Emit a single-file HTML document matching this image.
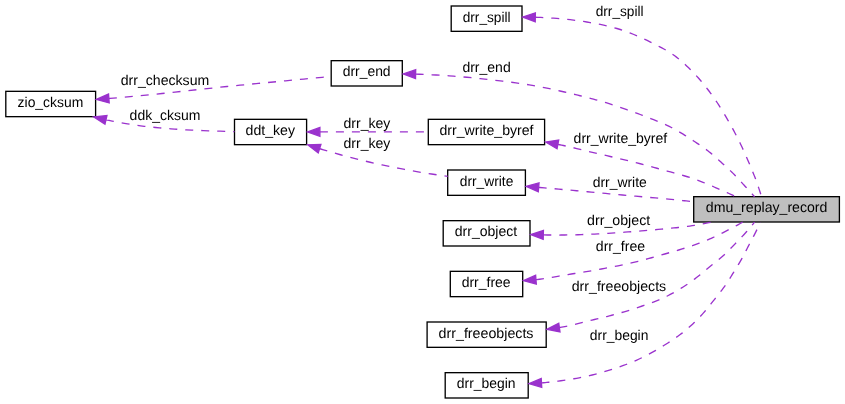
<!DOCTYPE html>
<html><head><meta charset="utf-8"><title>dmu_replay_record</title>
<style>
html,body{margin:0;padding:0;background:#fff;}
svg{display:block;will-change:transform;}
text{font-family:"Liberation Sans",sans-serif;font-size:14.2px;fill:#000;text-rendering:geometricPrecision;}
</style></head><body>
<svg width="845" height="404" viewBox="0 0 845 404">
<rect x="0" y="0" width="845" height="404" fill="#ffffff"/>
<rect x="451.20" y="6.00" width="70.80" height="25.33" fill="#ffffff" stroke="#000" stroke-width="1.33"/>
<rect x="331.20" y="60.67" width="71.10" height="25.33" fill="#ffffff" stroke="#000" stroke-width="1.33"/>
<rect x="5.80" y="91.33" width="89.80" height="25.33" fill="#ffffff" stroke="#000" stroke-width="1.33"/>
<rect x="234.50" y="119.33" width="72.10" height="25.33" fill="#ffffff" stroke="#000" stroke-width="1.33"/>
<rect x="428.30" y="119.33" width="116.30" height="25.33" fill="#ffffff" stroke="#000" stroke-width="1.33"/>
<rect x="447.70" y="170.00" width="77.70" height="25.33" fill="#ffffff" stroke="#000" stroke-width="1.33"/>
<rect x="693.70" y="196.67" width="145.70" height="25.33" fill="#BFBFBF" stroke="#000" stroke-width="1.33"/>
<rect x="443.20" y="220.67" width="86.80" height="25.33" fill="#ffffff" stroke="#000" stroke-width="1.33"/>
<rect x="450.30" y="271.33" width="72.40" height="25.33" fill="#ffffff" stroke="#000" stroke-width="1.33"/>
<rect x="427.10" y="322.00" width="119.10" height="25.33" fill="#ffffff" stroke="#000" stroke-width="1.33"/>
<rect x="445.20" y="372.67" width="83.00" height="25.33" fill="#ffffff" stroke="#000" stroke-width="1.33"/>
<path d="M535.30,17.26 L537.72,17.33 L540.86,17.46 L544.00,17.61 L547.13,17.78 L550.27,17.98 L553.40,18.20 L556.75,18.46 L560.10,18.73 L563.45,19.03 L566.80,19.36 L570.15,19.71 L573.49,20.10 L576.83,20.52 L580.16,20.97 L583.49,21.46 L586.80,22.00 L590.17,22.58 L593.55,23.17 L596.92,23.80 L600.29,24.46 L603.65,25.17 L607.00,25.92 L610.33,26.72 L613.65,27.58 L616.94,28.50 L620.20,29.50 L623.64,30.64 L627.07,31.86 L630.47,33.14 L633.86,34.50 L637.22,35.91 L640.56,37.38 L643.88,38.90 L647.18,40.46 L650.45,42.06 L653.70,43.70 L655.74,44.74 L657.78,45.78 L659.82,46.83 L661.85,47.90 L663.87,49.00 L665.87,50.12 L667.85,51.27 L669.80,52.47 L671.72,53.71 L673.60,55.00 L675.03,56.04 L676.44,57.11 L677.84,58.21 L679.22,59.33 L680.58,60.47 L681.93,61.63 L683.27,62.80 L684.59,63.99 L685.90,65.19 L687.20,66.40 L688.63,67.76 L690.05,69.15 L691.45,70.55 L692.83,71.97 L694.19,73.41 L695.54,74.87 L696.88,76.33 L698.20,77.81 L699.51,79.30 L700.80,80.80 L702.24,82.50 L703.66,84.22 L705.07,85.96 L706.45,87.71 L707.82,89.48 L709.17,91.26 L710.50,93.06 L711.82,94.86 L713.12,96.68 L714.40,98.50 L715.86,100.61 L717.29,102.75 L718.69,104.90 L720.07,107.07 L721.44,109.25 L722.78,111.44 L724.10,113.65 L725.42,115.86 L726.71,118.08 L728.00,120.30 L729.15,122.31 L730.28,124.32 L731.40,126.35 L732.51,128.38 L733.61,130.41 L734.69,132.46 L735.76,134.51 L736.82,136.57 L737.87,138.63 L738.90,140.70 L740.02,142.98 L741.12,145.26 L742.20,147.56 L743.27,149.86 L744.32,152.17 L745.36,154.49 L746.39,156.81 L747.40,159.14 L748.40,161.47 L749.40,163.80 L750.02,165.27 L750.64,166.74 L751.26,168.22 L751.87,169.69 L752.48,171.17 L753.08,172.65 L753.68,174.13 L754.26,175.62 L754.84,177.11 L755.40,178.60 L756.06,180.39 L756.71,182.19 L757.35,183.98 L757.98,185.79 L758.60,187.60 L759.20,189.41 L759.79,191.22 L760.37,193.05 L760.94,194.87 L761.50,196.70" fill="none" stroke="#9A32CD" stroke-width="1.33" stroke-dasharray="8,8"/>
<polygon points="522.80,17.06 535.23,21.69 535.37,12.82" fill="#9A32CD" stroke="#9A32CD" stroke-width="1.33" stroke-linejoin="miter"/>
<path d="M415.60,74.16 L419.24,74.27 L423.47,74.42 L427.70,74.59 L431.93,74.79 L436.15,75.00 L440.38,75.24 L444.60,75.50 L449.06,75.80 L453.51,76.13 L457.97,76.49 L462.42,76.87 L466.87,77.28 L471.32,77.71 L475.77,78.16 L480.22,78.62 L484.66,79.10 L489.10,79.60 L493.57,80.11 L498.04,80.62 L502.52,81.14 L506.99,81.68 L511.45,82.24 L515.92,82.83 L520.37,83.46 L524.82,84.13 L529.27,84.84 L533.70,85.60 L536.34,86.08 L538.98,86.58 L541.61,87.09 L544.25,87.62 L546.88,88.16 L549.50,88.71 L552.13,89.27 L554.76,89.84 L557.38,90.42 L560.00,91.00 L562.24,91.50 L564.47,92.01 L566.71,92.52 L568.94,93.04 L571.17,93.57 L573.40,94.10 L575.63,94.64 L577.85,95.19 L580.08,95.74 L582.30,96.30 L584.54,96.87 L586.78,97.44 L589.01,98.01 L591.25,98.59 L593.48,99.18 L595.72,99.78 L597.94,100.38 L600.17,101.01 L602.39,101.64 L604.60,102.30 L606.84,102.98 L609.07,103.68 L611.30,104.40 L613.52,105.13 L615.74,105.88 L617.96,106.63 L620.17,107.39 L622.38,108.16 L624.59,108.93 L626.80,109.70 L629.04,110.49 L631.28,111.28 L633.52,112.07 L635.76,112.87 L637.99,113.68 L640.23,114.50 L642.45,115.33 L644.67,116.17 L646.89,117.03 L649.10,117.90 L651.36,118.80 L653.62,119.70 L655.87,120.60 L658.13,121.51 L660.37,122.44 L662.61,123.39 L664.83,124.37 L667.04,125.38 L669.23,126.42 L671.40,127.50 L673.70,128.71 L675.99,129.96 L678.25,131.25 L680.49,132.58 L682.72,133.94 L684.94,135.32 L687.14,136.72 L689.34,138.14 L691.52,139.57 L693.70,141.00 L695.29,142.05 L696.88,143.10 L698.47,144.15 L700.05,145.21 L701.62,146.28 L703.19,147.37 L704.74,148.47 L706.28,149.59 L707.80,150.73 L709.30,151.90 L710.53,152.89 L711.75,153.90 L712.95,154.92 L714.15,155.95 L715.33,157.00 L716.51,158.05 L717.69,159.11 L718.86,160.18 L720.03,161.24 L721.20,162.30 L722.41,163.39 L723.62,164.48 L724.82,165.58 L726.02,166.67 L727.22,167.78 L728.41,168.88 L729.60,170.00 L730.78,171.12 L731.94,172.26 L733.10,173.40 L734.24,174.56 L735.37,175.73 L736.49,176.91 L737.61,178.09 L738.71,179.29 L739.81,180.49 L740.91,181.69 L742.01,182.90 L743.10,184.10 L744.20,185.30 L745.24,186.43 L746.27,187.57 L747.31,188.70 L748.34,189.84 L749.37,190.98 L750.40,192.12 L751.43,193.26 L752.45,194.41 L753.48,195.55 L754.50,196.70" fill="none" stroke="#9A32CD" stroke-width="1.33" stroke-dasharray="8,8"/>
<polygon points="403.10,73.92 415.51,78.60 415.69,69.73" fill="#9A32CD" stroke="#9A32CD" stroke-width="1.33" stroke-linejoin="miter"/>
<path d="M557.87,144.37 L559.69,144.74 L561.55,145.12 L563.40,145.50 L566.76,146.22 L570.10,146.97 L573.45,147.74 L576.79,148.54 L580.12,149.34 L583.46,150.16 L586.79,150.98 L590.12,151.80 L593.46,152.61 L596.80,153.40 L600.14,154.18 L603.48,154.95 L606.83,155.72 L610.17,156.48 L613.51,157.24 L616.86,158.01 L620.20,158.79 L623.54,159.58 L626.87,160.38 L630.20,161.20 L633.56,162.04 L636.92,162.90 L640.28,163.76 L643.63,164.64 L646.98,165.53 L650.33,166.42 L653.68,167.33 L657.02,168.24 L660.36,169.17 L663.70,170.10 L667.09,171.04 L670.48,171.97 L673.88,172.89 L677.27,173.82 L680.66,174.76 L684.05,175.74 L687.41,176.75 L690.76,177.80 L694.09,178.92 L697.40,180.10 L699.28,180.81 L701.16,181.54 L703.02,182.29 L704.89,183.05 L706.74,183.83 L708.60,184.62 L710.45,185.41 L712.30,186.21 L714.15,187.01 L716.00,187.80 L717.86,188.60 L719.72,189.40 L721.57,190.21 L723.42,191.02 L725.27,191.84 L727.12,192.66 L728.97,193.49 L730.82,194.32 L732.66,195.16 L734.50,196.00" fill="none" stroke="#9A32CD" stroke-width="1.33" stroke-dasharray="8,8"/>
<polygon points="545.59,142.05 557.04,148.73 558.69,140.01" fill="#9A32CD" stroke="#9A32CD" stroke-width="1.33" stroke-linejoin="miter"/>
<path d="M538.65,187.40 L539.68,187.49 L544.44,187.89 L549.20,188.30 L553.96,188.71 L558.72,189.13 L563.48,189.55 L568.24,189.97 L573.00,190.40 L576.63,190.73 L580.26,191.07 L583.89,191.40 L587.52,191.75 L591.15,192.09 L594.78,192.43 L598.41,192.78 L602.04,193.12 L605.67,193.46 L609.30,193.80 L615.87,194.40 L622.44,195.00 L629.01,195.58 L635.58,196.16 L642.16,196.75 L648.73,197.33 L655.30,197.93 L661.87,198.54 L668.43,199.16 L675.00,199.80 L676.87,199.99 L678.74,200.17 L680.61,200.36 L682.48,200.55 L684.35,200.74 L686.22,200.93 L688.09,201.12 L689.96,201.31 L691.83,201.51 L693.70,201.70" fill="none" stroke="#9A32CD" stroke-width="1.33" stroke-dasharray="8,8"/>
<polygon points="526.20,186.37 538.29,191.83 539.02,182.98" fill="#9A32CD" stroke="#9A32CD" stroke-width="1.33" stroke-linejoin="miter"/>
<path d="M543.30,234.94 L543.84,234.95 L547.30,235.00 L550.76,235.03 L554.22,235.04 L557.68,235.05 L561.14,235.03 L564.60,235.00 L567.94,234.95 L571.28,234.89 L574.62,234.81 L577.96,234.72 L581.30,234.61 L584.64,234.49 L587.98,234.36 L591.32,234.21 L594.66,234.06 L598.00,233.90 L601.34,233.73 L604.68,233.54 L608.03,233.34 L611.37,233.13 L614.71,232.91 L618.05,232.68 L621.39,232.45 L624.72,232.20 L628.06,231.95 L631.40,231.70 L634.74,231.44 L638.08,231.18 L641.43,230.91 L644.77,230.63 L648.11,230.34 L651.45,230.05 L654.79,229.75 L658.13,229.44 L661.46,229.12 L664.80,228.80 L667.06,228.58 L669.33,228.37 L671.59,228.15 L673.85,227.94 L676.12,227.72 L678.38,227.48 L680.64,227.24 L682.89,226.98 L685.15,226.70 L687.40,226.40 L689.79,226.06 L692.18,225.70 L694.57,225.32 L696.95,224.92 L699.33,224.51 L701.71,224.08 L704.09,223.64 L706.46,223.18 L708.83,222.70 L711.20,222.20" fill="none" stroke="#9A32CD" stroke-width="1.33" stroke-dasharray="8,8"/>
<polygon points="530.80,234.62 543.18,239.38 543.41,230.50" fill="#9A32CD" stroke="#9A32CD" stroke-width="1.33" stroke-linejoin="miter"/>
<path d="M535.96,279.68 L536.70,279.60 L539.50,279.27 L542.30,278.90 L545.10,278.48 L547.89,278.02 L550.67,277.55 L553.46,277.05 L556.24,276.55 L559.03,276.05 L561.81,275.57 L564.60,275.10 L567.94,274.56 L571.28,274.03 L574.63,273.50 L577.97,272.96 L581.31,272.43 L584.66,271.89 L588.00,271.34 L591.33,270.78 L594.67,270.20 L598.00,269.60 L601.35,268.99 L604.70,268.37 L608.05,267.74 L611.40,267.10 L614.74,266.45 L618.08,265.78 L621.42,265.10 L624.75,264.39 L628.08,263.66 L631.40,262.90 L634.76,262.10 L638.12,261.28 L641.47,260.43 L644.81,259.56 L648.16,258.67 L651.49,257.76 L654.83,256.84 L658.15,255.90 L661.48,254.96 L664.80,254.00 L668.27,253.00 L671.75,252.01 L675.23,251.01 L678.71,249.99 L682.17,248.96 L685.63,247.90 L689.08,246.80 L692.51,245.66 L695.91,244.46 L699.30,243.20 L700.80,242.62 L702.31,242.03 L703.81,241.44 L705.31,240.83 L706.80,240.22 L708.29,239.60 L709.78,238.97 L711.26,238.32 L712.73,237.67 L714.20,237.00 L715.63,236.33 L717.05,235.65 L718.47,234.96 L719.88,234.25 L721.29,233.54 L722.70,232.82 L724.10,232.09 L725.50,231.36 L726.90,230.63 L728.30,229.90 L729.74,229.15 L731.18,228.39 L732.61,227.63 L734.05,226.87 L735.48,226.10 L736.91,225.33 L738.33,224.55 L739.76,223.77 L741.18,222.99 L742.60,222.20" fill="none" stroke="#9A32CD" stroke-width="1.33" stroke-dasharray="8,8"/>
<polygon points="523.50,280.64 536.30,284.10 535.62,275.25" fill="#9A32CD" stroke="#9A32CD" stroke-width="1.33" stroke-linejoin="miter"/>
<path d="M559.37,327.56 L560.30,327.40 L563.25,326.87 L566.18,326.28 L569.11,325.65 L572.03,324.99 L574.95,324.29 L577.86,323.58 L580.77,322.85 L583.68,322.13 L586.59,321.41 L589.50,320.70 L591.99,320.11 L594.47,319.52 L596.96,318.94 L599.44,318.35 L601.93,317.75 L604.41,317.15 L606.89,316.54 L609.36,315.91 L611.83,315.26 L614.30,314.60 L616.79,313.91 L619.27,313.21 L621.75,312.50 L624.23,311.77 L626.71,311.04 L629.18,310.28 L631.64,309.51 L634.10,308.73 L636.55,307.92 L639.00,307.10 L641.51,306.25 L644.02,305.39 L646.54,304.53 L649.04,303.65 L651.54,302.74 L654.03,301.81 L656.50,300.85 L658.96,299.85 L661.39,298.80 L663.80,297.70 L665.31,296.98 L666.82,296.24 L668.32,295.48 L669.81,294.71 L671.29,293.93 L672.77,293.13 L674.24,292.32 L675.70,291.49 L677.16,290.65 L678.60,289.80 L680.13,288.88 L681.65,287.94 L683.17,286.99 L684.67,286.02 L686.17,285.03 L687.66,284.03 L689.13,283.02 L690.60,281.99 L692.06,280.95 L693.50,279.90 L694.86,278.88 L696.20,277.84 L697.53,276.79 L698.85,275.72 L700.16,274.64 L701.47,273.55 L702.78,272.46 L704.08,271.37 L705.39,270.28 L706.70,269.20 L708.50,267.74 L710.32,266.29 L712.14,264.84 L713.96,263.39 L715.78,261.94 L717.58,260.48 L719.37,258.99 L721.14,257.49 L722.89,255.96 L724.60,254.40 L725.75,253.32 L726.88,252.22 L728.00,251.12 L729.12,250.00 L730.22,248.88 L731.32,247.74 L732.42,246.61 L733.51,245.47 L734.61,244.34 L735.70,243.20 L736.84,242.03 L737.97,240.85 L739.11,239.68 L740.24,238.50 L741.37,237.32 L742.50,236.13 L743.61,234.93 L744.72,233.73 L745.82,232.52 L746.90,231.30 L747.68,230.41 L748.46,229.51 L749.23,228.61 L749.99,227.71 L750.76,226.80 L751.51,225.89 L752.27,224.97 L753.02,224.05 L753.76,223.13 L754.50,222.20" fill="none" stroke="#9A32CD" stroke-width="1.33" stroke-dasharray="8,8"/>
<polygon points="546.99,329.29 559.99,331.95 558.76,323.16" fill="#9A32CD" stroke="#9A32CD" stroke-width="1.33" stroke-linejoin="miter"/>
<path d="M541.48,382.93 L541.90,382.90 L543.54,382.76 L545.19,382.61 L546.83,382.45 L548.47,382.28 L550.11,382.10 L551.75,381.91 L553.39,381.72 L555.03,381.52 L556.66,381.31 L558.30,381.10 L560.91,380.75 L563.52,380.39 L566.13,380.02 L568.74,379.62 L571.35,379.21 L573.95,378.78 L576.55,378.32 L579.14,377.84 L581.72,377.34 L584.30,376.80 L586.93,376.22 L589.55,375.62 L592.16,374.99 L594.78,374.34 L597.38,373.66 L599.98,372.95 L602.57,372.22 L605.16,371.47 L607.73,370.70 L610.30,369.90 L612.94,369.06 L615.58,368.19 L618.21,367.31 L620.83,366.40 L623.44,365.47 L626.05,364.50 L628.64,363.50 L631.21,362.47 L633.76,361.41 L636.30,360.30 L639.14,359.01 L641.95,357.66 L644.75,356.27 L647.53,354.84 L650.29,353.37 L653.03,351.86 L655.76,350.31 L658.46,348.74 L661.14,347.13 L663.80,345.50 L665.84,344.23 L667.87,342.95 L669.90,341.65 L671.91,340.33 L673.91,338.99 L675.90,337.63 L677.86,336.25 L679.80,334.83 L681.72,333.38 L683.60,331.90 L685.43,330.41 L687.24,328.89 L689.02,327.34 L690.79,325.76 L692.54,324.16 L694.26,322.53 L695.95,320.88 L697.63,319.21 L699.28,317.51 L700.90,315.80 L702.21,314.37 L703.49,312.93 L704.76,311.46 L706.00,309.97 L707.24,308.47 L708.46,306.97 L709.67,305.45 L710.88,303.93 L712.09,302.42 L713.30,300.90 L714.56,299.33 L715.83,297.75 L717.09,296.17 L718.34,294.59 L719.59,293.00 L720.83,291.41 L722.05,289.80 L723.26,288.18 L724.44,286.55 L725.60,284.90 L726.51,283.56 L727.41,282.21 L728.30,280.85 L729.18,279.49 L730.04,278.11 L730.90,276.73 L731.75,275.35 L732.60,273.97 L733.45,272.58 L734.30,271.20 L735.06,269.97 L735.81,268.74 L736.56,267.51 L737.31,266.27 L738.06,265.04 L738.80,263.80 L739.54,262.55 L740.27,261.31 L740.99,260.06 L741.70,258.80 L742.47,257.41 L743.23,256.01 L743.98,254.60 L744.72,253.19 L745.45,251.78 L746.18,250.36 L746.91,248.95 L747.64,247.53 L748.37,246.11 L749.10,244.70 L749.88,243.22 L750.66,241.75 L751.45,240.28 L752.23,238.81 L753.02,237.33 L753.80,235.86 L754.57,234.38 L755.33,232.89 L756.07,231.40 L756.80,229.90 L757.16,229.14 L757.52,228.37 L757.88,227.60 L758.23,226.84 L758.58,226.07 L758.93,225.30 L759.28,224.52 L759.62,223.75 L759.96,222.98 L760.30,222.20" fill="none" stroke="#9A32CD" stroke-width="1.33" stroke-dasharray="8,8"/>
<polygon points="529.00,383.65 541.73,387.37 541.22,378.50" fill="#9A32CD" stroke="#9A32CD" stroke-width="1.33" stroke-linejoin="miter"/>
<path d="M108.86,98.49 L110.00,98.40 L123.02,97.31 L136.03,96.12 L149.04,94.84 L162.03,93.50 L175.03,92.11 L188.02,90.69 L201.01,89.28 L214.00,87.87 L227.00,86.51 L240.00,85.20 L249.12,84.31 L258.24,83.42 L267.36,82.54 L276.47,81.67 L285.59,80.79 L294.71,79.93 L303.84,79.06 L312.96,78.20 L322.08,77.35 L331.20,76.50" fill="none" stroke="#9A32CD" stroke-width="1.33" stroke-dasharray="8,8"/>
<polygon points="96.40,99.44 109.20,102.92 108.52,94.06" fill="#9A32CD" stroke="#9A32CD" stroke-width="1.33" stroke-linejoin="miter"/>
<path d="M105.96,119.79 L106.00,119.80 L109.06,120.45 L112.13,121.07 L115.20,121.68 L118.27,122.26 L121.35,122.82 L124.44,123.36 L127.52,123.88 L130.61,124.37 L133.71,124.85 L136.80,125.30 L140.57,125.82 L144.35,126.29 L148.13,126.73 L151.92,127.13 L155.71,127.51 L159.51,127.86 L163.31,128.19 L167.10,128.50 L170.90,128.81 L174.70,129.10 L180.37,129.50 L186.04,129.85 L191.72,130.14 L197.40,130.39 L203.08,130.60 L208.76,130.80 L214.45,130.97 L220.13,131.14 L225.82,131.32 L231.50,131.50 L231.80,131.51 L232.10,131.52 L232.40,131.53 L232.70,131.54 L233.00,131.55 L233.30,131.56 L233.60,131.57 L233.90,131.58 L234.20,131.59 L234.50,131.60" fill="none" stroke="#9A32CD" stroke-width="1.33" stroke-dasharray="8,8"/>
<polygon points="93.78,116.98 104.96,124.12 106.96,115.46" fill="#9A32CD" stroke="#9A32CD" stroke-width="1.33" stroke-linejoin="miter"/>
<path d="M319.90,131.90 L322.62,131.90 L327.96,131.90 L333.30,131.90 L338.64,131.90 L343.98,131.90 L349.32,131.90 L354.66,131.90 L360.00,131.90 L366.83,131.90 L373.66,131.90 L380.49,131.90 L387.32,131.90 L394.15,131.90 L400.98,131.90 L407.81,131.90 L414.64,131.90 L421.47,131.90 L428.30,131.90" fill="none" stroke="#9A32CD" stroke-width="1.33" stroke-dasharray="8,8"/>
<polygon points="307.40,131.90 319.90,136.34 319.90,127.46" fill="#9A32CD" stroke="#9A32CD" stroke-width="1.33" stroke-linejoin="miter"/>
<path d="M319.57,148.64 L320.71,148.99 L323.48,149.83 L326.26,150.67 L329.04,151.49 L331.82,152.30 L334.60,153.10 L340.48,154.75 L346.38,156.35 L352.29,157.89 L358.22,159.39 L364.16,160.84 L370.11,162.24 L376.07,163.60 L382.04,164.91 L388.02,166.18 L394.00,167.40 L399.34,168.45 L404.68,169.47 L410.03,170.45 L415.39,171.39 L420.76,172.30 L426.13,173.17 L431.51,174.01 L436.90,174.81 L442.30,175.57 L447.70,176.30" fill="none" stroke="#9A32CD" stroke-width="1.33" stroke-dasharray="8,8"/>
<polygon points="307.66,144.84 318.23,152.87 320.92,144.41" fill="#9A32CD" stroke="#9A32CD" stroke-width="1.33" stroke-linejoin="miter"/>
<g style="filter:grayscale(1)">
<text x="462.7" y="21.5" textLength="47.9" lengthAdjust="spacingAndGlyphs">drr_spill</text>
<text x="342.7" y="76.2" textLength="47.9" lengthAdjust="spacingAndGlyphs">drr_end</text>
<text x="17.6" y="106.8" textLength="65.7" lengthAdjust="spacingAndGlyphs">zio_cksum</text>
<text x="245.6" y="134.8" textLength="49.4" lengthAdjust="spacingAndGlyphs">ddt_key</text>
<text x="439.5" y="134.8" textLength="94.0" lengthAdjust="spacingAndGlyphs">drr_write_byref</text>
<text x="459.8" y="185.5" textLength="53.5" lengthAdjust="spacingAndGlyphs">drr_write</text>
<text x="705.8" y="212.2" textLength="121.6" lengthAdjust="spacingAndGlyphs">dmu_replay_record</text>
<text x="454.8" y="236.2" textLength="62.4" lengthAdjust="spacingAndGlyphs">drr_object</text>
<text x="461.7" y="286.8" textLength="48.9" lengthAdjust="spacingAndGlyphs">drr_free</text>
<text x="438.6" y="337.5" textLength="94.9" lengthAdjust="spacingAndGlyphs">drr_freeobjects</text>
<text x="456.8" y="388.2" textLength="58.8" lengthAdjust="spacingAndGlyphs">drr_begin</text>
<text x="595.7" y="16.4" textLength="47.9" lengthAdjust="spacingAndGlyphs">drr_spill</text>
<text x="462.4" y="72.4" textLength="48.3" lengthAdjust="spacingAndGlyphs">drr_end</text>
<text x="120.7" y="85.3" textLength="88.6" lengthAdjust="spacingAndGlyphs">drr_checksum</text>
<text x="129.6" y="119.5" textLength="70.8" lengthAdjust="spacingAndGlyphs">ddk_cksum</text>
<text x="343.5" y="128.2" textLength="46.9" lengthAdjust="spacingAndGlyphs">drr_key</text>
<text x="343.5" y="148.0" textLength="46.9" lengthAdjust="spacingAndGlyphs">drr_key</text>
<text x="573.6" y="143.3" textLength="93.6" lengthAdjust="spacingAndGlyphs">drr_write_byref</text>
<text x="592.7" y="187.3" textLength="54.1" lengthAdjust="spacingAndGlyphs">drr_write</text>
<text x="587.1" y="225.4" textLength="63.1" lengthAdjust="spacingAndGlyphs">drr_object</text>
<text x="595.8" y="251.3" textLength="49.3" lengthAdjust="spacingAndGlyphs">drr_free</text>
<text x="571.7" y="291.2" textLength="94.5" lengthAdjust="spacingAndGlyphs">drr_freeobjects</text>
<text x="589.8" y="340.2" textLength="58.6" lengthAdjust="spacingAndGlyphs">drr_begin</text>
</g>
</svg>
</body></html>
